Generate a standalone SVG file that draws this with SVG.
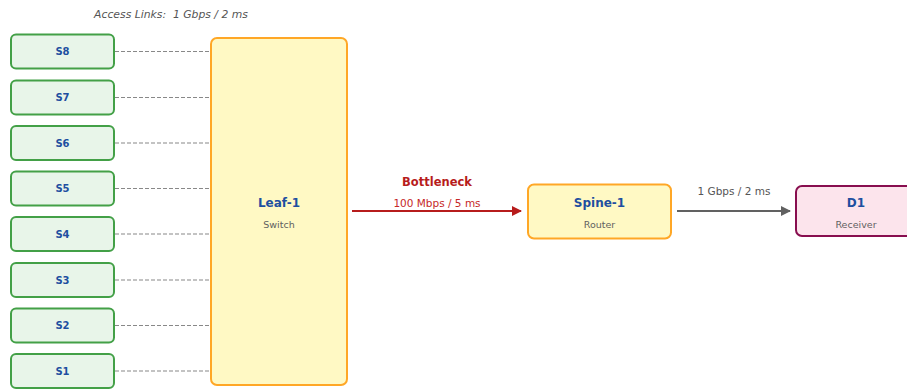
<svg xmlns="http://www.w3.org/2000/svg" width="907" height="389" viewBox="0 0 907 389">
<defs>
<marker id="ar" markerWidth="10" markerHeight="10" refX="9" refY="5" orient="auto" markerUnits="userSpaceOnUse"><path d="M0,0 L10,5 L0,10 z" fill="#b71c1c"/></marker>
<marker id="ag" markerWidth="10" markerHeight="10" refX="9" refY="5" orient="auto" markerUnits="userSpaceOnUse"><path d="M0,0 L10,5 L0,10 z" fill="#616161"/></marker>
</defs>
<style>
text{font-family:"DejaVu Sans",sans-serif;text-anchor:middle}
.s rect{fill:#e8f5e9;stroke:#43a047;stroke-width:2}
.s text{font-size:10px;font-weight:bold;fill:#1e4fa0}
.t{font-size:12px;font-weight:bold;fill:#1e4fa0}
.sub{font-size:9.5px;fill:#616161}
.acc{stroke:#888;stroke-width:1.2;stroke-dasharray:4,2}
</style>
<rect width="907" height="389" fill="#fff"/>
<text x="171" y="18" xml:space="preserve" style="font-size:10.8px;font-style:italic;fill:#555">Access Links:  1 Gbps / 2 ms</text>
<g id="connectors">
<line class="acc" x1="115" y1="51.5" x2="211" y2="51.5"/>
<line class="acc" x1="115" y1="97.5" x2="211" y2="97.5"/>
<line class="acc" x1="115" y1="143" x2="211" y2="143"/>
<line class="acc" x1="115" y1="188.5" x2="211" y2="188.5"/>
<line class="acc" x1="115" y1="234" x2="211" y2="234"/>
<line class="acc" x1="115" y1="280" x2="211" y2="280"/>
<line class="acc" x1="115" y1="325.5" x2="211" y2="325.5"/>
<line class="acc" x1="115" y1="371" x2="211" y2="371"/>
<line x1="352" y1="211" x2="521" y2="211" stroke="#b71c1c" stroke-width="2" marker-end="url(#ar)"/>
<text x="437" y="186" style="font-size:11.5px;font-weight:bold;fill:#b71c1c">Bottleneck</text>
<text x="437" y="207" style="font-size:10.5px;fill:#c62828">100 Mbps / 5 ms</text>
<line x1="677" y1="211" x2="790" y2="211" stroke="#616161" stroke-width="2" marker-end="url(#ag)"/>
<text x="734" y="195" style="font-size:10.5px;fill:#555">1 Gbps / 2 ms</text>
</g>
<g id="S8" class="s"><rect x="11" y="34.5" width="103" height="34" rx="5"/><text x="62.5" y="55">S8</text></g>
<g id="S7" class="s"><rect x="11" y="80.5" width="103" height="34" rx="5"/><text x="62.5" y="101">S7</text></g>
<g id="S6" class="s"><rect x="11" y="126" width="103" height="34" rx="5"/><text x="62.5" y="146.5">S6</text></g>
<g id="S5" class="s"><rect x="11" y="171.5" width="103" height="34" rx="5"/><text x="62.5" y="192">S5</text></g>
<g id="S4" class="s"><rect x="11" y="217" width="103" height="34" rx="5"/><text x="62.5" y="237.5">S4</text></g>
<g id="S3" class="s"><rect x="11" y="263" width="103" height="34" rx="5"/><text x="62.5" y="283.5">S3</text></g>
<g id="S2" class="s"><rect x="11" y="308.5" width="103" height="34" rx="5"/><text x="62.5" y="329">S2</text></g>
<g id="S1" class="s"><rect x="11" y="354" width="103" height="34" rx="5"/><text x="62.5" y="374.5">S1</text></g>
<g id="Leaf-1"><rect x="211" y="38" width="136" height="347" rx="6" fill="#fff9c4" stroke="#ffa726" stroke-width="2"/><text class="t" x="279" y="207">Leaf-1</text><text class="sub" x="279" y="228">Switch</text></g>
<g id="Spine-1"><rect x="528" y="184.5" width="143" height="54" rx="6" fill="#fff9c4" stroke="#ffa726" stroke-width="2"/><text class="t" x="599.5" y="207">Spine-1</text><text class="sub" x="599.5" y="228">Router</text></g>
<g id="D1"><rect x="796" y="186" width="120" height="50" rx="6" fill="#fce4ec" stroke="#880e4f" stroke-width="2"/><text class="t" x="856" y="207">D1</text><text class="sub" x="856" y="228">Receiver</text></g>
</svg>
